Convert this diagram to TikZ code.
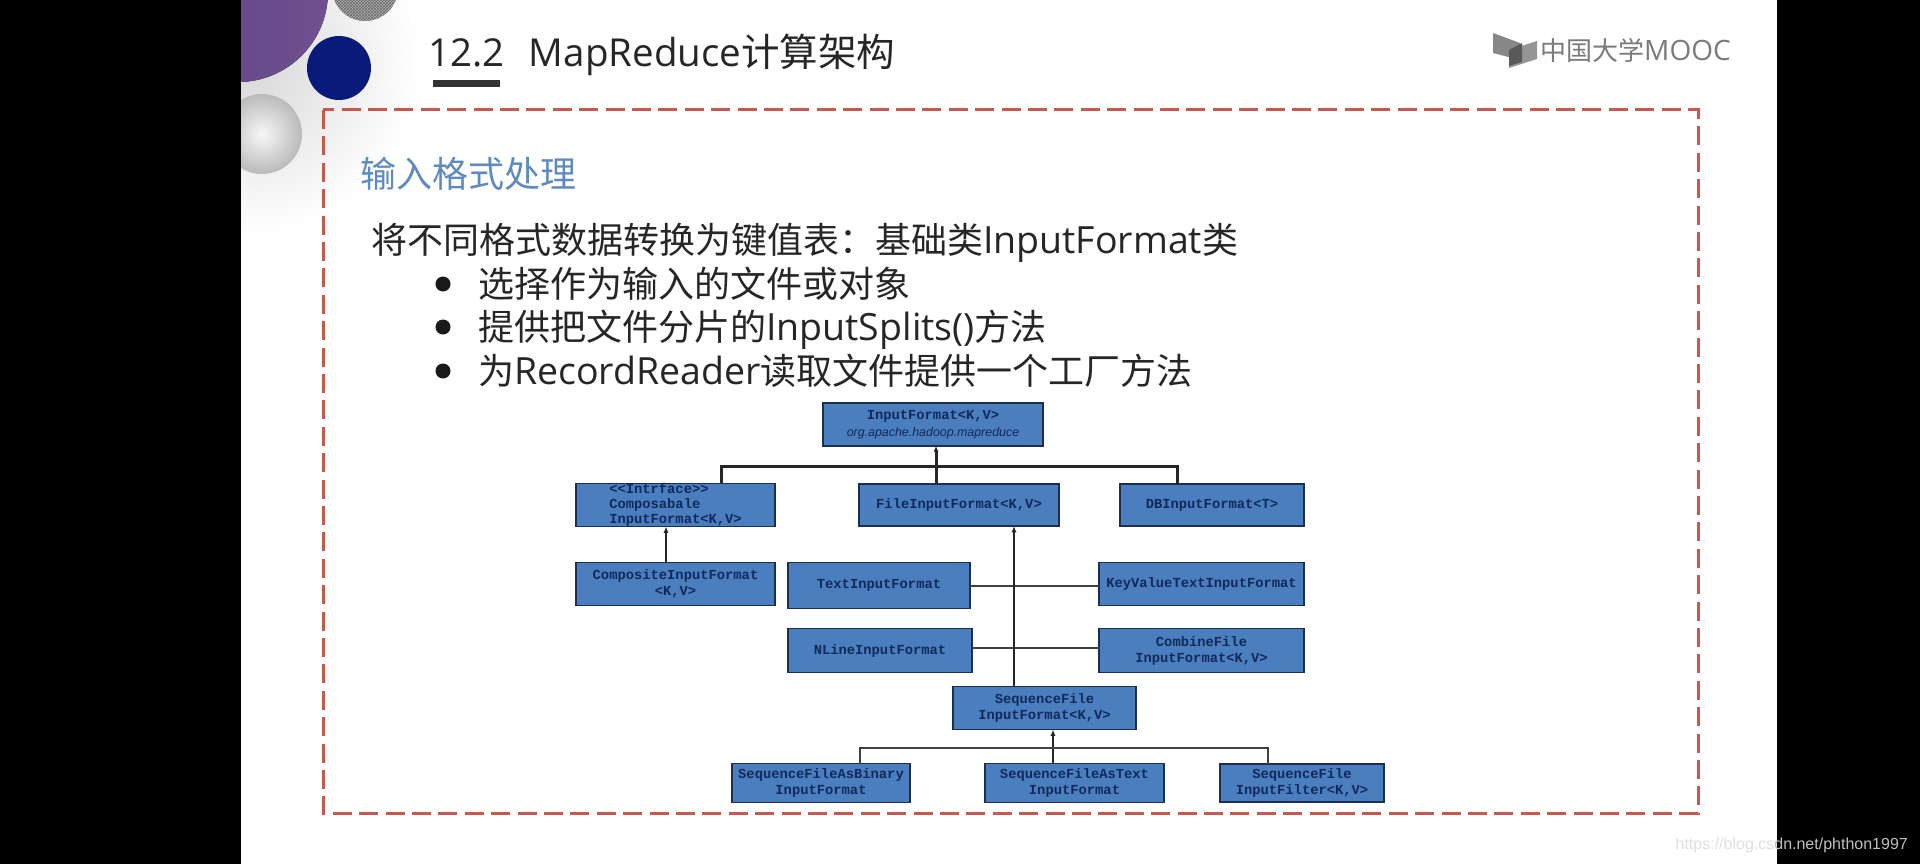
\documentclass[tikz,border=0pt]{standalone}
\usepackage{fontspec}
\setmainfont{Open Sans}
\newfontfamily\cjk{Noto Sans CJK SC}
\newfontfamily\monofnt{Liberation Mono}
\newfontfamily\sansfnt{Liberation Sans}
\usetikzlibrary{arrows.meta,positioning,patterns}
\definecolor{boxblue}{HTML}{4A7EBE}
\definecolor{boxline}{HTML}{1D2F4F}
\definecolor{boxtext}{HTML}{12295A}
\definecolor{framered}{HTML}{C9574C}
\definecolor{headblue}{HTML}{5E8AC2}
\definecolor{logogray}{HTML}{7A7A7A}
\definecolor{purplea}{HTML}{5F4589}
\definecolor{purpleb}{HTML}{6F5090}
\definecolor{navyball}{HTML}{0A1A7A}
\newcommand{\zh}[1]{{\cjk\fontsize{36}{42}\selectfont #1}}

\begin{document}
\begin{tikzpicture}[
x=1pt,y=-1pt,
box/.style={draw=boxline,line width=1.6pt,fill=boxblue,text=boxtext,align=center,inner sep=0pt,outer sep=0pt,
  font=\monofnt\bfseries\fontsize{13.8}{16}\selectfont},
arrow/.style={-{Latex[length=2.2mm,width=1.8mm]},line width=2pt,draw=black!85},
thickarrow/.style={-{Latex[length=2mm,width=1.8mm]},line width=3pt,draw=black!85},
thickline/.style={line width=3pt,draw=black!85},
thinline/.style={line width=2pt,draw=black!75},
title/.style={anchor=base west,inner sep=0pt,text=black!85,font=\fontsize{38.5}{44}\selectfont},
bodytext/.style={anchor=base west,inner sep=0pt,text=black!85,font=\fontsize{37.5}{42}\selectfont},
dot/.style={circle,fill=black!90,inner sep=0pt,minimum size=15pt}]
\useasboundingbox (0,0) rectangle (1920,864);
\fill[black] (0,0) rectangle (1920,864);
\fill[white] (241,0) rectangle (1777,864);
% slide corner
\begin{scope}
\clip (241,0) rectangle (1777,864);
\shade[inner color=black!16,outer color=white] (245,60) circle (175);
\fill[black!30] (365,-12) circle (33);
\fill[pattern=crosshatch,pattern color=black!60] (365,-12) circle (33);
\shade[inner color=black!3,outer color=black!27] (262,134) circle (40);
\fill[left color=purplea,right color=purpleb] (238,-8) circle (90);
\end{scope}
\fill[navyball] (339,68) circle (32);
% title
\node[title] (num) at (428,67) {12.2};
\node[title,base right=24pt of num] (head) {MapReduce\cjk 计算架构};
\fill[black!80] (433,80) rectangle (500,87);
% logo
\fill[logogray!90] (1493,33) -- (1520,43) -- (1520,60) -- (1493,53) -- cycle;
\fill[logogray!80] (1537,41) -- (1537,59) -- (1509,68) -- (1509,50) -- cycle;
\fill[black!65] (1509,50) -- (1522,43) -- (1522,62) -- (1509,66) -- cycle;
\node[anchor=base west,inner sep=0pt,text=logogray,font=\fontsize{28}{30}\selectfont] (logo) at (1540,61) {{\cjk\fontsize{26}{30}\selectfont 中国大学}MOOC};
% dashed frame
\draw[framered,line width=3pt,dash pattern=on 19pt off 7.4pt] (323,110) rectangle (1698,813);
% text
\node[anchor=base west,inner sep=0pt,text=headblue,font=\cjk\fontsize{36}{42}\selectfont] (sect) at (360,187) {输入格式处理};
\node[bodytext] (intro) at (371,253) {\zh{将不同格式数据转换为键值表\symbol{"FF1A}基础类}InputFormat\zh{类}};
\node[dot] (dota) at (443,284) {};
\node[dot] (dotb) at (443,327) {};
\node[dot] (dotc) at (443,371) {};
\node[bodytext] (itema) at (478,297) {\zh{选择作为输入的文件或对象}};
\node[bodytext] (itemb) at (478,340) {\zh{提供把文件分片的}InputSplits()\zh{方法}};
\node[bodytext] (itemc) at (478,384) {\zh{为}RecordReader\zh{读取文件提供一个工厂方法}};
% class boxes
\node[box,minimum width=220pt,minimum height=43pt] (input) at (933,424.5) {InputFormat<K,V>\\[1pt]{\sansfnt\mdseries\itshape\fontsize{12.4}{14}\selectfont org.apache.hadoop.mapreduce}};
\node[box,minimum width=199pt,minimum height=42pt,align=left,font=\monofnt\bfseries\fontsize{13.8}{15}\selectfont] (comp) at (675.5,505) {<<Intrface>>\\Composabale\\InputFormat<K,V>};
\node[box,minimum width=200pt,minimum height=42pt,right=84pt of comp] (file) {FileInputFormat<K,V>};
\node[box,minimum width=184pt,minimum height=42pt,right=61pt of file] (db) {DBInputFormat<T>};
\node[box,minimum width=199pt,minimum height=43pt,below=36pt of comp] (composite) {CompositeInputFormat\\<K,V>};
\node[box,minimum width=182pt,minimum height=46pt,right=13pt of composite,yshift=-1.5pt] (text) {TextInputFormat};
\node[box,minimum width=205pt,minimum height=43pt,right=129pt of text,yshift=1.5pt] (keyval) {KeyValueTextInputFormat};
\node[box,minimum width=184pt,minimum height=44pt,below right=20pt and 0pt of text.south west] (nline) {NLineInputFormat};
\node[box,minimum width=205pt,minimum height=44pt,right=127pt of nline] (combine) {CombineFile\\InputFormat<K,V>};
\node[box,minimum width=183pt,minimum height=43pt,below right=14pt and -19pt of nline.south east] (seqfile) {SequenceFile\\InputFormat<K,V>};
\node[box,minimum width=179pt,minimum height=39pt,below=34pt of seqfile,xshift=30pt] (seqtext) {SequenceFileAsText\\InputFormat};
\node[box,minimum width=178pt,minimum height=39pt,left=75pt of seqtext] (seqbin) {SequenceFileAsBinary\\InputFormat};
\node[box,minimum width=164pt,minimum height=38pt,right=56pt of seqtext] (seqfilt) {SequenceFile\\InputFilter<K,V>};
% connectors
\coordinate (topbus) at ([xshift=3pt,yshift=-20pt]input.south);
\coordinate (seqbus) at ([xshift=8.5pt,yshift=-18pt]seqfile.south);
\draw[thickarrow] (file.north -| topbus) -- (input.south -| topbus);
\draw[thickline] ([xshift=45.5pt]comp.north) |- (topbus) -| ([xshift=-35pt]db.north);
\draw[arrow] (composite.north -| 666,0) -- (comp.south -| 666,0);
\draw[thinline] (text.east) -- (text.east -| keyval.west);
\draw[thinline] ([yshift=3pt]nline.east) -- ([yshift=3pt]nline.east -| combine.west);
\draw[arrow] (seqfile.north -| 1014,0) -- (file.south -| 1014,0);
\draw[arrow] (seqtext.north -| seqbus) -- (seqfile.south -| seqbus);
\draw[thinline] ([xshift=39pt]seqbin.north) |- (seqbus) -| ([xshift=-34pt]seqfilt.north);
% watermark
\node[anchor=east,inner sep=0pt,font=\sansfnt\fontsize{16}{19}\selectfont] (mark) at (1908,845) {\textcolor{black!12}{https://blog.cs}\textcolor{black!25}{dn.net/phthon1997}};
\end{tikzpicture}
\end{document}
